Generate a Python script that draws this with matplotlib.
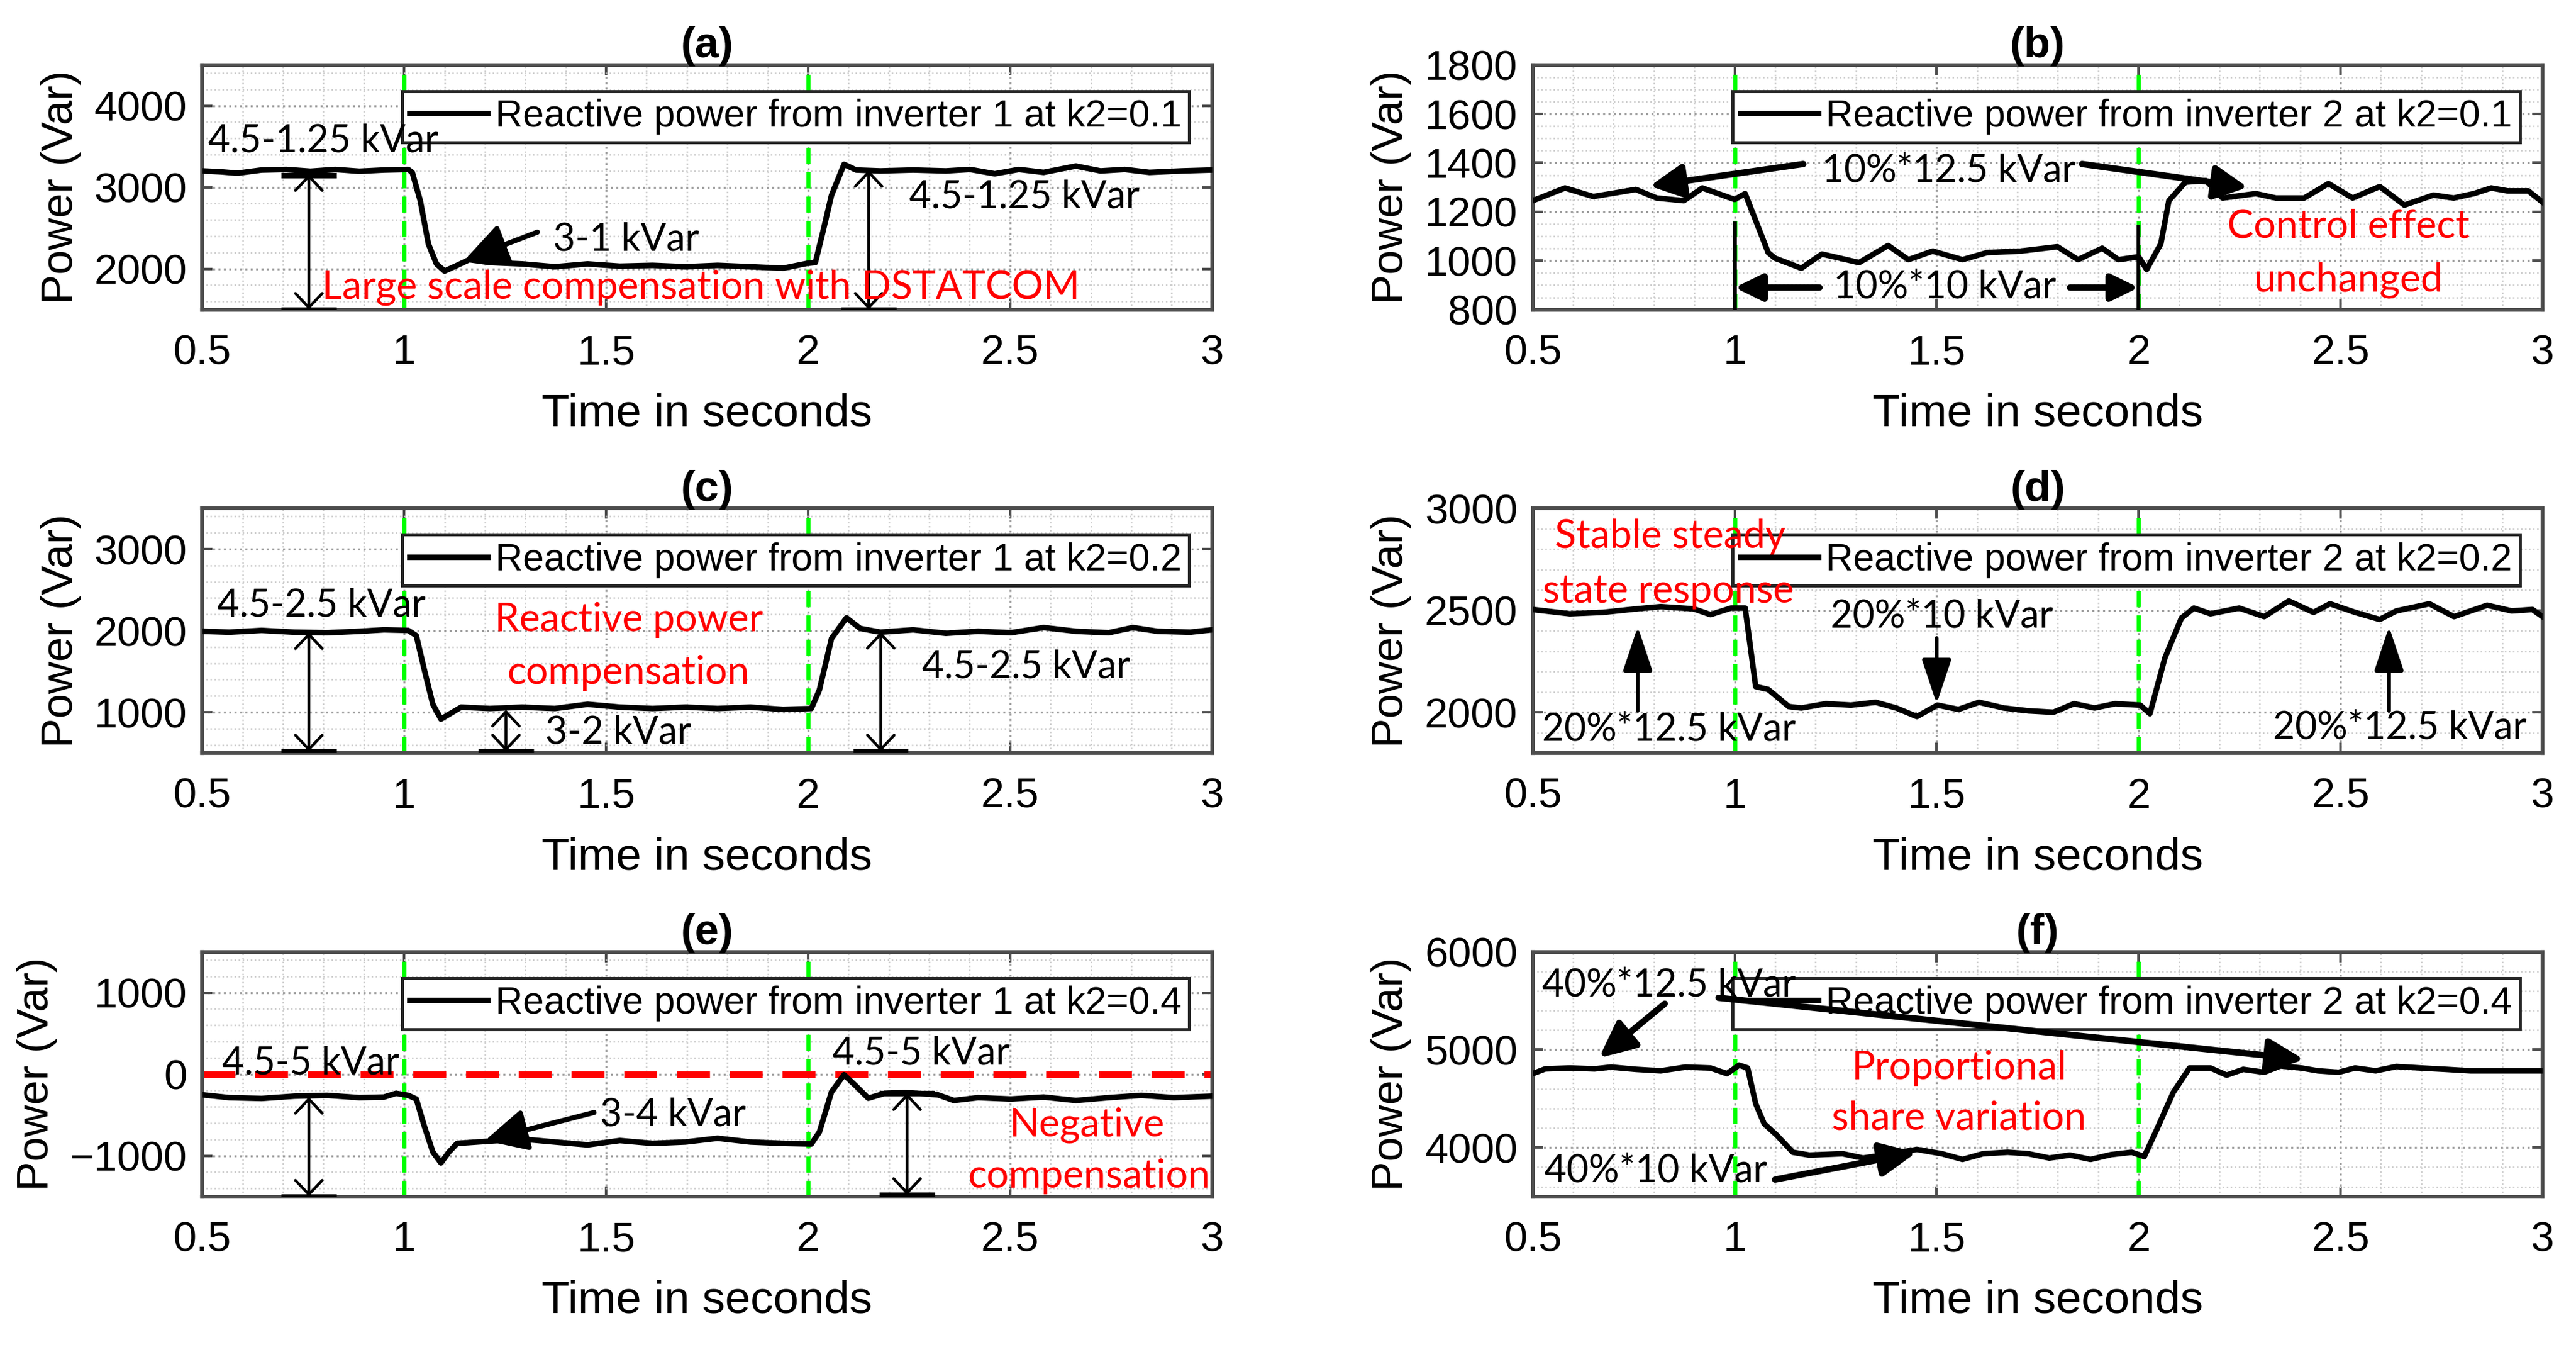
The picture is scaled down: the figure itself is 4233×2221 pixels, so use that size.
import numpy as np
import matplotlib
matplotlib.use("Agg")
import matplotlib.pyplot as plt
from matplotlib.ticker import MultipleLocator, FormatStrFormatter

plt.rcParams['font.family'] = ['Liberation Sans', 'DejaVu Sans']

##################### Data #############################################
# (a) inverter 1, k2 = 0.1
t_a = [0.5, 0.546, 0.587, 0.647, 0.708, 0.768, 0.829, 0.889, 0.95, 1.01,
       1.02, 1.04, 1.06, 1.08, 1.10, 1.131, 1.161, 1.212, 1.292, 1.373,
       1.454, 1.534, 1.615, 1.696, 1.776, 1.857, 1.938, 1.998, 2.018, 2.038,
       2.058, 2.089, 2.119, 2.179, 2.26, 2.341, 2.401, 2.462, 2.522, 2.583,
       2.663, 2.724, 2.784, 2.845, 2.925, 3.0]
q_a = [3200, 3189, 3172, 3211, 3218, 3196, 3218, 3196, 3211, 3218,
       3182, 2832, 2305, 2060, 1972, 2042, 2112, 2077, 2060, 2025,
       2060, 2032, 2042, 2025, 2042, 2025, 2007, 2067, 2077, 2481,
       2902, 3281, 3211, 3200, 3211, 3200, 3218, 3165, 3218, 3182,
       3260, 3200, 3218, 3182, 3200, 3211]

# (b) inverter 2, k2 = 0.1
t_b = [0.5, 0.58, 0.65, 0.755, 0.807, 0.874, 0.92, 1.0, 1.026, 1.083,
       1.10, 1.165, 1.216, 1.308, 1.38, 1.43, 1.49, 1.564, 1.625, 1.707,
       1.799, 1.85, 1.91, 1.95, 2.0, 2.02, 2.055, 2.075, 2.116, 2.167,
       2.208, 2.29, 2.34, 2.41, 2.47, 2.53, 2.597, 2.658, 2.73, 2.78,
       2.83, 2.873, 2.914, 2.965, 3.0]
q_b = [1245, 1297, 1262, 1291, 1256, 1245, 1297, 1250, 1274, 1033,
       1010, 969, 1027, 992, 1062, 1004, 1039, 1004, 1033, 1039,
       1057, 1004, 1051, 1004, 1016, 964, 1069, 1245, 1321, 1327,
       1256, 1274, 1256, 1256, 1315, 1256, 1303, 1227, 1268, 1256,
       1274, 1297, 1285, 1285, 1239]

# (c) inverter 1, k2 = 0.2
t_c = [0.5, 0.567, 0.647, 0.728, 0.809, 0.889, 0.95, 1.01, 1.03, 1.05,
       1.071, 1.091, 1.111, 1.141, 1.212, 1.292, 1.373, 1.454, 1.534, 1.615,
       1.696, 1.776, 1.857, 1.938, 2.008, 2.028, 2.058, 2.095, 2.129, 2.179,
       2.26, 2.341, 2.421, 2.502, 2.583, 2.663, 2.744, 2.804, 2.865, 2.946,
       3.0]
q_c = [1993, 1982, 2004, 1982, 1975, 1993, 2011, 2004, 1940, 1519,
       1098, 916, 975, 1063, 1046, 1063, 1046, 1098, 1063, 1046,
       1063, 1046, 1063, 1035, 1046, 1274, 1905, 2158, 2028, 1982,
       2011, 1968, 1993, 1975, 2039, 1993, 1975, 2039, 1993, 1982,
       2011]

# (d) inverter 2, k2 = 0.2
t_d = [0.5, 0.592, 0.674, 0.756, 0.817, 0.899, 0.94, 0.991, 1.026, 1.052,
       1.083, 1.134, 1.165, 1.226, 1.288, 1.349, 1.40, 1.451, 1.502, 1.554,
       1.605, 1.666, 1.727, 1.789, 1.84, 1.891, 1.942, 2.004, 2.028, 2.065,
       2.106, 2.137, 2.178, 2.249, 2.311, 2.372, 2.433, 2.474, 2.536, 2.597,
       2.638, 2.72, 2.781, 2.863, 2.924, 2.975, 3.0]
q_d = [2504, 2483, 2490, 2507, 2518, 2507, 2479, 2511, 2511, 2126,
       2112, 2028, 2021, 2042, 2035, 2049, 2021, 1979, 2035, 2014,
       2049, 2021, 2007, 2000, 2042, 2021, 2042, 2035, 1993, 2266,
       2462, 2511, 2483, 2511, 2469, 2546, 2490, 2532, 2490, 2455,
       2497, 2532, 2469, 2525, 2497, 2504, 2469]

# (e) inverter 1, k2 = 0.4
t_e = [0.5, 0.567, 0.647, 0.728, 0.809, 0.889, 0.95, 0.98, 1.01, 1.03,
       1.05, 1.071, 1.091, 1.111, 1.131, 1.212, 1.292, 1.373, 1.454, 1.534,
       1.615, 1.696, 1.776, 1.857, 1.938, 2.008, 2.028, 2.058, 2.089, 2.119,
       2.149, 2.19, 2.24, 2.321, 2.361, 2.421, 2.502, 2.583, 2.663, 2.744,
       2.825, 2.905, 3.0]
q_e = [-253, -288, -298, -270, -260, -288, -281, -235, -260, -305,
       -639, -954, -1088, -954, -849, -821, -796, -832, -867, -814,
       -849, -832, -786, -832, -849, -856, -709, -218, -7, -147,
       -295, -235, -225, -253, -323, -288, -305, -281, -323, -288,
       -260, -288, -270]

# (f) inverter 2, k2 = 0.4
t_f = [0.5, 0.531, 0.592, 0.653, 0.694, 0.756, 0.817, 0.878, 0.94, 0.981,
       1.011, 1.032, 1.052, 1.073, 1.104, 1.144, 1.185, 1.267, 1.318, 1.39,
       1.451, 1.513, 1.564, 1.615, 1.676, 1.727, 1.779, 1.83, 1.881, 1.932,
       1.983, 2.014, 2.045, 2.086, 2.126, 2.178, 2.218, 2.259, 2.311, 2.351,
       2.403, 2.444, 2.495, 2.536, 2.587, 2.638, 2.699, 2.761, 2.822, 2.904,
       3.0]
q_f = [4755, 4804, 4813, 4804, 4822, 4799, 4784, 4822, 4813, 4755,
       4842, 4813, 4448, 4244, 4127, 3952, 3923, 3937, 3893, 3937,
       3981, 3937, 3879, 3937, 3952, 3937, 3893, 3923, 3879, 3928,
       3952, 3908, 4185, 4565, 4813, 4813, 4740, 4799, 4769, 4834,
       4813, 4784, 4769, 4813, 4784, 4828, 4813, 4799, 4784, 4784,
       4784]

panel_titles = ['(a)', '(b)', '(c)', '(d)', '(e)', '(f)']
legend_labels = ['Reactive power from inverter 1 at k2=0.1',
                 'Reactive power from inverter 2 at k2=0.1',
                 'Reactive power from inverter 1 at k2=0.2',
                 'Reactive power from inverter 2 at k2=0.2',
                 'Reactive power from inverter 1 at k2=0.4',
                 'Reactive power from inverter 2 at k2=0.4']
y_limits = [(1500, 4500), (800, 1800), (500, 3500), (1800, 3000), (-1500, 1500), (3500, 6000)]
y_major = [1000, 200, 1000, 500, 1000, 1000]
y_minor = [200, 50, 200, 100, 200, 200]
event_times = [1.0, 2.0]  # load change instants

times = [t_a, t_b, t_c, t_d, t_e, t_f]
powers = [q_a, q_b, q_c, q_d, q_e, q_f]

##################### Plots ###########################
fig = plt.figure(figsize=(4233 / 300, 2221 / 300), dpi=300)
col_left = [0.0785, 0.595]
row_bottom = [0.771, 0.443, 0.115]
ax_w, ax_h = 0.392, 0.181

ANN = dict(family='Lato', fontsize=15, zorder=7)
RED = dict(family='Lato', fontsize=15.5, color='#ff0000', ha='center', va='center', zorder=7)


def arrow(ax, xy_from, xy_to, lw=2.0, hl=0.6, hw=0.3, scale=20, z=6):
    ax.annotate('', xy=xy_to, xytext=xy_from, zorder=z,
                arrowprops=dict(arrowstyle='-|>,head_length=%g,head_width=%g' % (hl, hw),
                                lw=lw, color='k', mutation_scale=scale,
                                shrinkA=0, shrinkB=0))


def dbl_arrow(ax, x, y_top, y_bot, caps=(), cap_w=0.068):
    ax.annotate('', xy=(x, y_top), xytext=(x, y_bot), zorder=4,
                arrowprops=dict(arrowstyle='<->,head_length=0.35,head_width=0.33',
                                lw=1.1, color='k', mutation_scale=16,
                                shrinkA=0, shrinkB=0))
    for yc in caps:
        ax.plot([x - cap_w, x + cap_w], [yc, yc], color='k', lw=2.2,
                solid_capstyle='butt', zorder=4)


axes = []
for i in range(6):
    r, c = divmod(i, 2)
    ax = fig.add_axes([col_left[c], row_bottom[r], ax_w, ax_h])
    axes.append(ax)
    for te in event_times:
        ax.axvline(te, color='#00ff00', lw=1.6, ls=(0, (4, 2)), zorder=2)
    ax.plot(times[i], powers[i], color='k', lw=2.2, zorder=3, label=legend_labels[i])
    ax.set_xlim(0.5, 3)
    ax.set_ylim(*y_limits[i])
    ax.xaxis.set_major_locator(MultipleLocator(0.5))
    ax.xaxis.set_minor_locator(MultipleLocator(0.1))
    ax.yaxis.set_major_locator(MultipleLocator(y_major[i]))
    ax.yaxis.set_minor_locator(MultipleLocator(y_minor[i]))
    ax.xaxis.set_major_formatter(FormatStrFormatter('%g'))
    ax.grid(True, which='major', ls=':', color='0.62', lw=0.8)
    ax.grid(True, which='minor', ls=':', color='0.8', lw=0.6)
    ax.set_axisbelow(True)
    ax.tick_params(which='major', direction='in', top=True, right=True, length=4,
                   width=1.0, color='0.3', labelsize=16.5)
    ax.tick_params(axis='x', which='major', pad=9.5)
    ax.tick_params(axis='y', which='major', pad=6)
    ax.tick_params(which='minor', length=0)
    for s in ax.spines.values():
        s.set_color('0.3')
        s.set_linewidth(1.5)
    ax.set_title(panel_titles[i], fontweight='bold', fontsize=17, pad=3)
    ax.set_xlabel('Time in seconds', fontsize=18, labelpad=8)
    ax.set_ylabel('Power (Var)', fontsize=17.5, labelpad=5)
    leg = ax.legend(loc='upper left', bbox_to_anchor=(0.198, 0.8925), fontsize=15,
                    frameon=True, fancybox=False, edgecolor='0.15', framealpha=1,
                    handlelength=2.05, handletextpad=0.2, borderpad=0.2,
                    borderaxespad=0)
    leg.get_frame().set_linewidth(1.2)
    leg.set_zorder(5)

# (a)
ax = axes[0]
ax.text(0.80, 3570, '4.5-1.25 kVar', ha='center', va='center', **ANN)
ax.text(2.535, 2880, '4.5-1.25 kVar', ha='center', va='center', **ANN)
ax.text(1.55, 2360, '3-1 kVar', ha='center', va='center', **ANN)
arrow(ax, (1.33, 2450), (1.15, 2110), lw=2.0, hl=0.7, hw=0.35)
ax.text(1.735, 1770, 'Large scale compensation with DSTATCOM', **RED)
dbl_arrow(ax, 0.764, 3160, 1500, caps=(3150, 1500))
dbl_arrow(ax, 2.15, 3210, 1500, caps=(1500,))

# (b)
ax = axes[1]
ax.text(1.53, 1368, '10%*12.5 kVar', ha='center', va='center', **ANN)
arrow(ax, (1.17, 1395), (0.79, 1305), lw=2.5, hl=0.55, hw=0.28)
arrow(ax, (1.86, 1395), (2.27, 1300), lw=2.5, hl=0.55, hw=0.28)
ax.text(1.52, 893, '10%*10 kVar', ha='center', va='center', **ANN)
arrow(ax, (1.21, 890), (1.0, 890), lw=2.5, hl=0.45, hw=0.22)
arrow(ax, (1.83, 890), (2.0, 890), lw=2.5, hl=0.45, hw=0.22)
ax.vlines([1.0, 2.0], 800, [1160, 1145], color='k', lw=1.5, zorder=4)
ax.text(2.52, 1139, 'Control effect', **RED)
ax.text(2.52, 921, 'unchanged', **RED)

# (c)
ax = axes[2]
ax.text(0.795, 2310, '4.5-2.5 kVar', ha='center', va='center', **ANN)
ax.text(2.54, 1554, '4.5-2.5 kVar', ha='center', va='center', **ANN)
ax.text(1.53, 747, '3-2 kVar', ha='center', va='center', **ANN)
ax.text(1.557, 2133, 'Reactive power', **RED)
ax.text(1.555, 1484, 'compensation', **RED)
dbl_arrow(ax, 0.764, 1980, 520, caps=(520,))
dbl_arrow(ax, 1.252, 1030, 520, caps=(520,))
dbl_arrow(ax, 2.18, 1985, 520, caps=(520,))

# (d)
ax = axes[3]
ax.text(0.84, 2860, 'Stable steady', **RED)
ax.text(0.835, 2594, 'state response', **RED)
arrow(ax, (0.76, 2007), (0.76, 2420), lw=1.5, hl=0.75, hw=0.25)
arrow(ax, (1.5, 2364), (1.5, 2042), lw=1.5, hl=0.75, hw=0.25)
arrow(ax, (2.62, 2007), (2.62, 2420), lw=1.5, hl=0.75, hw=0.25)
ax.text(0.837, 1916, '20%*12.5 kVar', ha='center', va='center', **ANN)
ax.text(1.513, 2469, '20%*10 kVar', ha='center', va='center', **ANN)
ax.text(2.647, 1923, '20%*12.5 kVar', ha='center', va='center', **ANN)

# (e)
ax = axes[4]
ax.axhline(0, color='#ff0000', lw=2.6, ls=(0, (5, 3)), zorder=2.5)
ax.text(0.768, 133, '4.5-5 kVar', ha='center', va='center', **ANN)
ax.text(2.28, 256, '4.5-5 kVar', ha='center', va='center', **ANN)
ax.text(1.665, -498, '3-4 kVar', ha='center', va='center', **ANN)
arrow(ax, (1.47, -470), (1.20, -814), lw=2.0, hl=0.7, hw=0.35)
ax.text(2.69, -621, 'Negative', **RED)
ax.text(2.695, -1253, 'compensation', **RED)
dbl_arrow(ax, 0.764, -280, -1500, caps=(-1500,))
dbl_arrow(ax, 2.245, -235, -1480, caps=(-235, -1480))

# (f)
ax = axes[5]
ax.text(0.837, 5660, '40%*12.5 kVar', ha='center', va='center', **ANN)
arrow(ax, (0.827, 5470), (0.664, 4915), lw=2.5, hl=0.6, hw=0.28)
arrow(ax, (0.96, 5530), (2.41, 4900), lw=2.5, hl=0.6, hw=0.28, z=8)
ax.text(0.805, 3760, '40%*10 kVar', ha='center', va='center', **ANN)
arrow(ax, (1.10, 3673), (1.45, 3950), lw=2.5, hl=0.6, hw=0.28)
ax.text(1.555, 4813, 'Proportional', **RED)
ax.text(1.555, 4302, 'share variation', **RED)

fig.savefig('out.png', dpi=300)
